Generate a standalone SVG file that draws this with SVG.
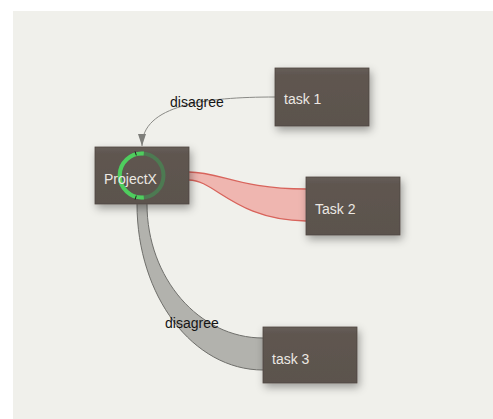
<svg xmlns="http://www.w3.org/2000/svg" width="493" height="419" viewBox="0 0 493 419">
  <style>
    .node { fill: url(#nodeGrad); stroke: #4e4742; stroke-width: 0.8; filter: url(#shadow); }
    .ntext { font-family: "Liberation Sans", Arial, sans-serif; font-size: 14px; fill: #ece8e3; }
    .elabel { font-family: "Liberation Sans", Arial, sans-serif; font-size: 14px; fill: #151515; }
    .thin { fill: none; stroke: #8a8a86; stroke-width: 1; }
    .redfill { fill: #efb6b0; stroke: none; }
    .redline { fill: none; stroke: #d8645c; stroke-width: 1.3; }
    .greyfill { fill: #b2b2ad; stroke: none; }
    .greyline { fill: none; stroke: #6f6f6b; stroke-width: 1; }
  </style>
  <defs>
    <linearGradient id="nodeGrad" x1="0" y1="0" x2="0" y2="1">
      <stop offset="0" stop-color="#675e58"/>
      <stop offset="0.12" stop-color="#5f5650"/>
      <stop offset="1" stop-color="#5b534d"/>
    </linearGradient>
    <filter id="shadow" x="-30%" y="-30%" width="170%" height="180%">
      <feDropShadow dx="2" dy="4" stdDeviation="4" flood-color="#000" flood-opacity="0.35"/>
    </filter>
    <marker id="arrow" viewBox="0 0 12 8" refX="12" refY="4" markerWidth="12" markerHeight="8" markerUnits="userSpaceOnUse" orient="auto">
      <path d="M0,0 L12,4 L0,8 Z" fill="#7e7e7a"/>
    </marker>
  </defs>

  <rect x="0" y="0" width="493" height="419" fill="#ffffff"/>
  <rect x="13" y="11" width="480" height="408" fill="#f0f0eb"/>

  <g id="connectors">
    <g id="edge-task1-projectx">
      <path class="thin" d="M275,97 C205,97 142,105 142,146" marker-end="url(#arrow)"/>
      <text class="elabel" x="170" y="107">disagree</text>
    </g>
    <g id="edge-projectx-task2">
      <path class="redfill" d="M189,172 C220,172 240,189 306,189 L306,221 C235,220 215,180 189,180 Z"/>
      <path class="redline" d="M189,172 C220,172 240,189 306,189"/>
      <path class="redline" d="M189,180 C215,180 235,220 306,221"/>
    </g>
    <g id="edge-projectx-task3">
      <path class="greyfill" d="M137,204 C137,296 193,370 263,370 L263,338 C199,338 147,278 147,204 Z"/>
      <path class="greyline" d="M137,204 C137,296 193,370 263,370"/>
      <path class="greyline" d="M147,204 C147,278 199,338 263,338"/>
      <text class="elabel" x="165" y="328">disagree</text>
    </g>
  </g>

  <g id="node-projectx">
    <rect class="node" x="95" y="147" width="94" height="57"/>
    <circle cx="141.5" cy="175.5" r="22" fill="none" stroke="#4d7a52" stroke-width="4"/>
    <path d="M143.8,153.6 A22,22 0 1 0 143.8,197.4" fill="none" stroke="#4fcd5e" stroke-width="4"/>
    <line x1="135.1" y1="151.4" x2="136.3" y2="155.4" stroke="#1a1a1a" stroke-width="1"/>
    <line x1="135.1" y1="199.6" x2="136.3" y2="195.6" stroke="#1a1a1a" stroke-width="1"/>
    <text class="ntext" x="104" y="184">ProjectX</text>
  </g>

  <g id="node-task1">
    <rect class="node" x="275" y="68" width="94" height="58"/>
    <text class="ntext" x="284" y="104">task 1</text>
  </g>

  <g id="node-task2">
    <rect class="node" x="306" y="177" width="94" height="58"/>
    <text class="ntext" x="315" y="214">Task 2</text>
  </g>

  <g id="node-task3">
    <rect class="node" x="263" y="327" width="94" height="56"/>
    <text class="ntext" x="272" y="364">task 3</text>
  </g>
</svg>
